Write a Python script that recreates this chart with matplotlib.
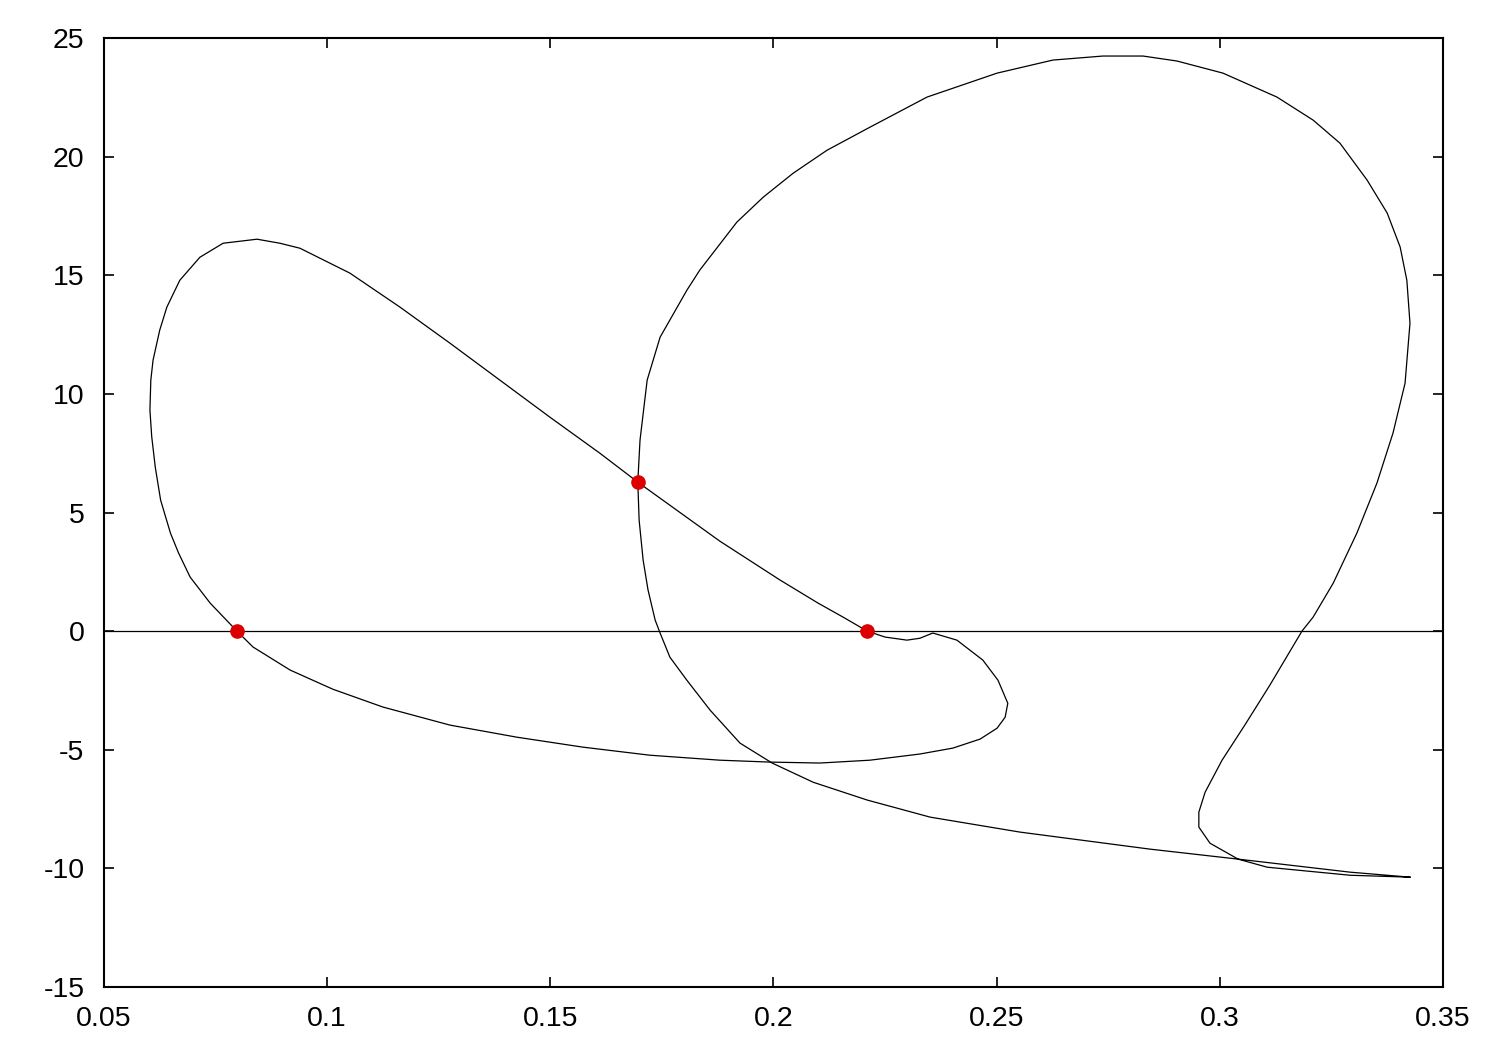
import matplotlib

matplotlib.use("Agg")
import matplotlib.pyplot as plt
import numpy as np

# left loop (closed), starts and ends at the right red point
left_x = [0.2210, 0.2250, 0.2299, 0.2328, 0.2357, 0.2411, 0.2469, 0.2503, 0.2525, 0.2519,
          0.2501, 0.2463, 0.2402, 0.2328, 0.2216, 0.2104, 0.1992, 0.1880, 0.1723, 0.1573,
          0.1425, 0.1275, 0.1125, 0.1013, 0.0917, 0.0834, 0.0798, 0.0738, 0.0693, 0.0667,
          0.0649, 0.0627, 0.0615, 0.0607, 0.0603, 0.0605, 0.0610, 0.0625, 0.0641, 0.0670,
          0.0715, 0.0767, 0.0843, 0.0894, 0.0939, 0.1051, 0.1163, 0.1275, 0.1387, 0.1499,
          0.1611, 0.1696, 0.1880, 0.2015, 0.2100, 0.2156, 0.2210]
left_y = [0.00, -0.25, -0.38, -0.30, -0.08, -0.38, -1.22, -2.07, -3.04, -3.63,
          -4.09, -4.55, -4.93, -5.18, -5.44, -5.56, -5.52, -5.44, -5.23, -4.89,
          -4.47, -3.96, -3.20, -2.45, -1.64, -0.67, 0.00, 1.18, 2.28, 3.30,
          4.13, 5.52, 6.91, 8.20, 9.32, 10.58, 11.42, 12.69, 13.66, 14.79,
          15.76, 16.35, 16.52, 16.35, 16.14, 15.09, 13.66, 12.14, 10.58, 9.02,
          7.50, 6.28, 3.79, 2.15, 1.18, 0.59, 0.00]

# right loop (closed), starts and ends at the lower right tip
right_x = [0.3426, 0.3292, 0.3041, 0.2844, 0.2552, 0.2351, 0.2210, 0.2089, 0.1997, 0.1925,
           0.1858, 0.1806, 0.1768, 0.1746, 0.1735, 0.1719, 0.1708, 0.1699, 0.1696, 0.1701,
           0.1717, 0.1746, 0.1806, 0.1835, 0.1918, 0.1977, 0.2044, 0.2120, 0.2216, 0.2344,
           0.2501, 0.2626, 0.2738, 0.2828, 0.2904, 0.3007, 0.3128, 0.3209, 0.3269, 0.3330,
           0.3375, 0.3404, 0.3419, 0.3426, 0.3415, 0.3388, 0.3352, 0.3307, 0.3254, 0.3209,
           0.3184, 0.3112, 0.3056, 0.3005, 0.2967, 0.2953, 0.2953, 0.2978, 0.3041, 0.3106,
           0.3292, 0.3426]
right_y = [-10.37, -10.16, -9.61, -9.19, -8.47, -7.84, -7.12, -6.37, -5.56, -4.72,
           -3.33, -2.07, -1.10, -0.08, 0.46, 1.73, 2.99, 4.68, 6.28, 8.05,
           10.58, 12.39, 14.37, 15.22, 17.24, 18.29, 19.30, 20.27, 21.24, 22.51,
           23.52, 24.07, 24.24, 24.24, 24.03, 23.52, 22.51, 21.54, 20.57, 19.01,
           17.62, 16.19, 14.79, 12.98, 10.45, 8.35, 6.24, 4.13, 2.02, 0.59,
           0.00, -2.28, -3.96, -5.44, -6.79, -7.63, -8.26, -8.94, -9.61, -9.95,
           -10.29, -10.37]

# marked points
point_x = [0.0797, 0.1696, 0.2209]
point_y = [0.0, 6.28, 0.0]

baseline = 0.0
x_ticks = [0.05, 0.1, 0.15, 0.2, 0.25, 0.3, 0.35]
x_labels = ["0.05", "0.1", "0.15", "0.2", "0.25", "0.3", "0.35"]
y_ticks = [-15, -10, -5, 0, 5, 10, 15, 20, 25]


def main():
    plt.rcParams["font.family"] = ["Liberation Sans", "DejaVu Sans"]
    plt.rcParams["axes.unicode_minus"] = False
    fig = plt.figure(figsize=(15, 10.5), dpi=100)
    ax = fig.add_axes([0.0693, 0.06, 0.8927, 0.9038])

    ax.axhline(baseline, color="black", lw=0.9)
    ax.plot(left_x, left_y, color="black", lw=0.9)
    ax.plot(right_x, right_y, color="black", lw=0.9)
    ax.plot(point_x, point_y, "o", color="#dd0000", markersize=9.5, zorder=5)

    ax.set_xlim(0.05, 0.35)
    ax.set_ylim(-15, 25)
    ax.set_xticks(x_ticks)
    ax.set_xticklabels(x_labels)
    ax.set_yticks(y_ticks)
    ax.tick_params(direction="in", length=7.5, width=1.2, labelsize=20.5,
                   top=True, right=True, pad=14)
    for s in ax.spines.values():
        s.set_linewidth(1.5)

    fig.savefig("out.png", dpi=100)


if __name__ == "__main__":
    main()
